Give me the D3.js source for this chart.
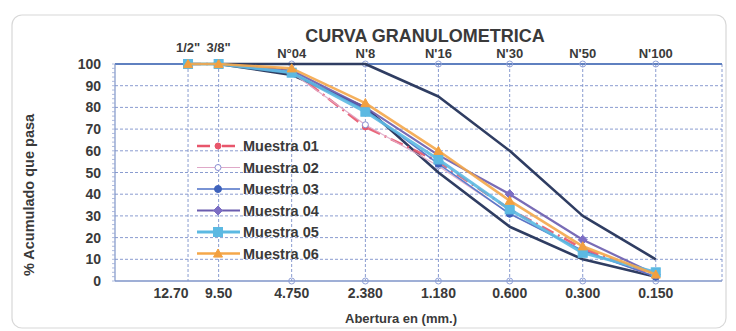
<!DOCTYPE html>
<html><head><meta charset="utf-8">
<script src="https://cdn.jsdelivr.net/npm/d3@7"></script>
<style>body{margin:0;background:#fff}svg{display:block;font-family:"Liberation Sans",Arial,sans-serif}</style>
</head><body><svg id="c" width="736" height="331"></svg>
<script>
const sizes=[12.7,9.5,4.75,2.36,1.18,0.6,0.3,0.15];
const bottomLabels=["12.70","9.50","4.750","2.380","1.180","0.600","0.300","0.150"];
const sieveLabels=['1/2"','3/8"',"N°04","N'8","N'16","N'30","N'50","N'100"];
const seriesNames=["Muestra 01","Muestra 02","Muestra 03","Muestra 04","Muestra 05","Muestra 06"];
const m01=[100,100,97,71,55,33,15,2];
const m02=[100,100,96,72,53,31,14,2];
const m03=[100,100,96,79,54,31,14,2];
const m04=[100,100,97,80,58,40,19,3];
const m05=[100,100,96,78,56,33,13,4];
const m06=[100,100,98,82,60,37,16,3];
const upperLimit=[null,100,100,100,85,60,30,10];
const lowerLimit=[null,100,95,80,50,25,10,2];
const yTicks=[0,10,20,30,40,50,60,70,80,90,100];
const title="CURVA GRANULOMETRICA";
const xTitle="Abertura en (mm.)";
const yTitle="% Acumulado que pasa";

const svg=d3.select("#c");
const L=115,R=722,T=64,B=281;
const x=d3.scaleLog().domain([25.4,0.08]).range([L,R]);
const y=d3.scaleLinear().domain([0,100]).range([B,T]);

// frame
svg.append("rect").attr("x",12).attr("y",15).attr("width",714).attr("height",313).attr("rx",10)
  .attr("fill","#fff").attr("stroke","#d8d8d8").attr("stroke-width",1.2);

const grid="#8a9cd0";
svg.append("g").selectAll("line").data(yTicks.filter(v=>v>0&&v<100)).join("line")
  .attr("x1",L).attr("x2",R).attr("y1",d=>y(d)).attr("y2",d=>y(d))
  .attr("stroke",grid).attr("stroke-width",1).attr("stroke-dasharray","3,2");
svg.append("g").selectAll("line").data(sizes).join("line")
  .attr("x1",d=>x(d)).attr("x2",d=>x(d)).attr("y1",T).attr("y2",B)
  .attr("stroke",grid).attr("stroke-width",1).attr("stroke-dasharray","3,2");
svg.append("line").attr("x1",R).attr("x2",R).attr("y1",T).attr("y2",B)
  .attr("stroke",grid).attr("stroke-dasharray","3,2");
svg.append("line").attr("x1",L).attr("x2",R).attr("y1",T).attr("y2",T).attr("stroke","#5f80c0").attr("stroke-width",2);
svg.append("line").attr("x1",L).attr("x2",R).attr("y1",B).attr("y2",B).attr("stroke","#7f95c8").attr("stroke-width",1.5);
svg.append("line").attr("x1",L).attr("x2",L).attr("y1",T).attr("y2",B).attr("stroke","#7f95c8").attr("stroke-width",1.2);
svg.append("g").selectAll("line").data(d3.range(0,101,2)).join("line")
  .attr("x1",L-3).attr("x2",L).attr("y1",d=>y(d)).attr("y2",d=>y(d)).attr("stroke","#9aaad6").attr("stroke-width",0.8);

svg.append("g").selectAll("text").data(yTicks).join("text")
  .attr("x",101).attr("y",d=>y(d)).attr("dy","0.36em").attr("text-anchor","end")
  .attr("font-size",14).attr("font-weight","bold").attr("fill","#3a3a3a").text(d=>d);

const circ=sizes.slice(2);
svg.append("g").selectAll("circle").data(circ).join("circle")
  .attr("cx",d=>x(d)).attr("cy",T).attr("r",3).attr("fill","none").attr("stroke","#8f9fd6").attr("stroke-width",1);
svg.append("g").selectAll("circle").data(circ).join("circle")
  .attr("cx",d=>x(d)).attr("cy",B).attr("r",3).attr("fill","none").attr("stroke","#8f9fd6").attr("stroke-width",1);

svg.append("g").selectAll("text").data(sizes).join("text")
  .attr("x",d=>x(d)).attr("y",(d,i)=>i<2?52:58).attr("text-anchor","middle")
  .attr("font-size",13).attr("font-weight","bold").attr("fill","#3a3a3a").text((d,i)=>sieveLabels[i]);
svg.append("g").selectAll("text").data(sizes).join("text")
  .attr("x",(d,i)=>x(d)+(i===0?-17:0)).attr("y",298).attr("text-anchor","middle")
  .attr("font-size",14).attr("font-weight","bold").attr("fill","#3a3a3a").text((d,i)=>bottomLabels[i]);

svg.append("text").attr("x",425).attr("y",42).attr("text-anchor","middle")
  .attr("font-size",18).attr("font-weight","bold").attr("fill","#3a3a3a").text(title);
svg.append("text").attr("x",401).attr("y",323).attr("text-anchor","middle")
  .attr("font-size",13).attr("font-weight","bold").attr("fill","#3a3a3a").text(xTitle);
svg.append("text").attr("transform","translate(34,195) rotate(-90)").attr("text-anchor","middle")
  .attr("font-size",14.5).attr("font-weight","bold").attr("fill","#3a3a3a").text(yTitle);

const line=d3.line().defined(d=>d[1]!=null).x(d=>x(d[0])).y(d=>y(d[1]));
const pts=arr=>sizes.map((s,i)=>[s,arr[i]]);
const limitColor="#2f3d62";
[upperLimit,lowerLimit].forEach(a=>{
  svg.append("path").attr("d",line(pts(a))).attr("fill","none").attr("stroke",limitColor)
    .attr("stroke-width",2.6).attr("stroke-linejoin","round");
});

const styles=[
 {c:"#e8566b",w:2.6,dash:"13,5,2,5",m:"circle",mc:"#e8566b",ms:3,hollow:false},
 {c:"#dfa8c8",w:1.2,dash:null,m:"circle",mc:"#8a8fd2",ms:3,hollow:true},
 {c:"#4d6fc6",w:1.6,dash:null,m:"circle",mc:"#3e62bc",ms:3.5,hollow:false},
 {c:"#6a5cae",w:2.2,dash:null,m:"diamond",mc:"#7c6ec4",ms:4.5,hollow:false},
 {c:"#5cb9e2",w:3.2,dash:null,m:"square",mc:"#5cb9e2",ms:4.5,hollow:false},
 {c:"#f4a74a",w:2.6,dash:null,m:"triangle",mc:"#f2a040",ms:4.5,hollow:false}
];
const series=[m01,m02,m03,m04,m05,m06];
function marker(g,cx,cy,s){
  let el;
  if(s.m==="circle") el=g.append("circle").attr("cx",cx).attr("cy",cy).attr("r",s.ms);
  else if(s.m==="square") el=g.append("rect").attr("x",cx-s.ms).attr("y",cy-s.ms).attr("width",2*s.ms).attr("height",2*s.ms);
  else if(s.m==="diamond") el=g.append("path").attr("d",`M${cx},${cy-s.ms}L${cx+s.ms},${cy}L${cx},${cy+s.ms}L${cx-s.ms},${cy}Z`);
  else el=g.append("path").attr("d",`M${cx},${cy-s.ms}L${cx+s.ms},${cy+s.ms*0.8}L${cx-s.ms},${cy+s.ms*0.8}Z`);
  el.attr("fill",s.hollow?"#fff":s.mc).attr("stroke",s.mc).attr("stroke-width",1);
}
series.forEach((arr,k)=>{
  const s=styles[k];
  const g=svg.append("g");
  g.append("path").attr("d",line(pts(arr))).attr("fill","none").attr("stroke",s.c).attr("stroke-width",s.w)
    .attr("stroke-dasharray",s.dash).attr("stroke-linejoin","round").attr("opacity",0.9);
  pts(arr).forEach(p=>marker(g,x(p[0]),y(p[1]),s));
});

const lg=svg.append("g");
seriesNames.forEach((n,k)=>{
  const s=styles[k];
  const ly=146+k*21.5;
  lg.append("line").attr("x1",197).attr("x2",240).attr("y1",ly).attr("y2",ly)
    .attr("stroke",s.c).attr("stroke-width",s.w).attr("stroke-dasharray",s.dash);
  marker(lg,218,ly,s);
  lg.append("text").attr("x",243).attr("y",ly).attr("dy","0.36em").attr("font-size",14.5)
    .attr("font-weight","bold").attr("fill","#3a3a3a").text(n);
});
</script></body></html>
